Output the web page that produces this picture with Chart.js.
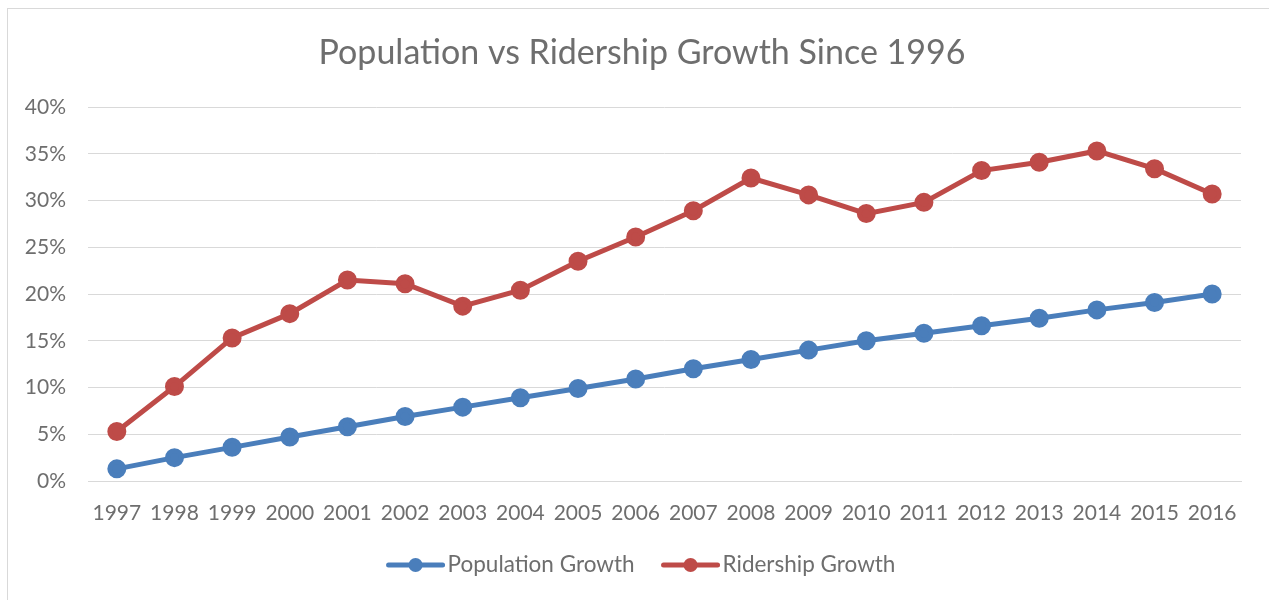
<!DOCTYPE html>
<html>
<head>
<meta charset="utf-8">
<script src="https://cdn.jsdelivr.net/npm/chart.js@4"></script>
<style>
  html, body { margin: 0; padding: 0; background: #fff; overflow: hidden; }
  #frame { position: absolute; left: 7px; top: 8px; width: 1320px; height: 700px; border: 1px solid #d9d9d9; }
  #wrap { position: absolute; left: 0; top: 0; width: 1284px; height: 600px; }
</style>
</head>
<body>
<div id="frame"></div>
<div id="wrap"><canvas id="chart"></canvas></div>
<script>
// years on the x axis
const years = ["1997", "1998", "1999", "2000", "2001", "2002", "2003", "2004", "2005", "2006",
  "2007", "2008", "2009", "2010", "2011", "2012", "2013", "2014", "2015", "2016"];

// growth since 1996, in percent
const populationGrowth = [1.3, 2.5, 3.6, 4.7, 5.8, 6.9, 7.9, 8.9, 9.9, 10.9,
  12.0, 13.0, 14.0, 15.0, 15.8, 16.6, 17.4, 18.3, 19.1, 20.0];
const ridershipGrowth = [5.3, 10.1, 15.3, 17.9, 21.5, 21.1, 18.7, 20.4, 23.5, 26.1,
  28.9, 32.4, 30.6, 28.6, 29.8, 33.2, 34.1, 35.3, 33.4, 30.7];

const seriesNames = ["Population Growth", "Ridership Growth"];
const titleText = "Population vs Ridership Growth Since 1996";

const textColor = "#6e6e6e";
const gridColor = "#d9d9d9";
const fontFamily = "Lato, 'Open Sans', sans-serif";

// title and legend drawn by hand: both centred on the chart frame,
// and each legend entry gets a line with a dot on it
const frameText = {
  id: "frameText",
  afterDraw(chart) {
    const ctx = chart.ctx;
    const cx = chart.width / 2;
    ctx.save();
    ctx.fillStyle = textColor;
    ctx.textAlign = "center";
    ctx.textBaseline = "middle";
    ctx.font = "34px " + fontFamily;
    ctx.fillText(titleText, cx, 53);

    const y = 565;
    const lineLen = 54, textGap = 5, itemGap = 29;
    ctx.font = "22.5px " + fontFamily;
    const items = chart.data.datasets.map((ds) => ({
      ds: ds,
      w: lineLen + textGap + ctx.measureText(ds.label).width
    }));
    const total = items.reduce((s, it) => s + it.w, 0) + itemGap * (items.length - 1);
    let x = cx - total / 2;
    items.forEach((it) => {
      ctx.strokeStyle = it.ds.borderColor;
      ctx.lineWidth = 5;
      ctx.lineCap = "round";
      ctx.beginPath();
      ctx.moveTo(x, y);
      ctx.lineTo(x + lineLen, y);
      ctx.stroke();
      ctx.fillStyle = it.ds.borderColor;
      ctx.beginPath();
      ctx.arc(x + lineLen / 2, y, 7, 0, Math.PI * 2);
      ctx.fill();
      ctx.fillStyle = textColor;
      ctx.textAlign = "left";
      ctx.fillText(it.ds.label, x + lineLen + textGap, y);
      x += it.w + itemGap;
    });
    ctx.restore();
  }
};

new Chart(document.getElementById("chart"), {
  type: "line",
  data: {
    labels: years,
    datasets: [
      {
        label: seriesNames[0],
        data: populationGrowth,
        borderColor: "#4a7ebb",
        backgroundColor: "#4a7ebb",
        borderWidth: 5,
        pointRadius: 7,
        pointHoverRadius: 7,
        tension: 0
      },
      {
        label: seriesNames[1],
        data: ridershipGrowth,
        borderColor: "#be4b48",
        backgroundColor: "#be4b48",
        borderWidth: 5,
        pointRadius: 7,
        pointHoverRadius: 7,
        tension: 0
      }
    ]
  },
  options: {
    responsive: true,
    maintainAspectRatio: false,
    animation: false,
    layout: { padding: { left: 0, right: 43, top: 107, bottom: 0 } },
    plugins: {
      legend: { display: false },
      tooltip: { enabled: false },
      title: { display: false }
    },
    scales: {
      x: {
        offset: true,
        grid: { display: false, drawTicks: false },
        border: { display: true, color: gridColor, width: 1 },
        ticks: {
          color: textColor,
          font: { family: fontFamily, size: 21 },
          padding: 20,
          maxRotation: 0,
          autoSkip: false
        },
        afterFit(scale) { scale.height = 119; }
      },
      y: {
        min: 0,
        max: 40,
        grid: { color: gridColor, lineWidth: 1, drawTicks: false },
        border: { display: false },
        ticks: {
          stepSize: 5,
          color: textColor,
          font: { family: fontFamily, size: 21 },
          padding: 22,
          callback: (v) => v + "%"
        },
        afterFit(scale) { scale.width = 88; }
      }
    }
  },
  plugins: [frameText]
});
</script>
</body>
</html>
